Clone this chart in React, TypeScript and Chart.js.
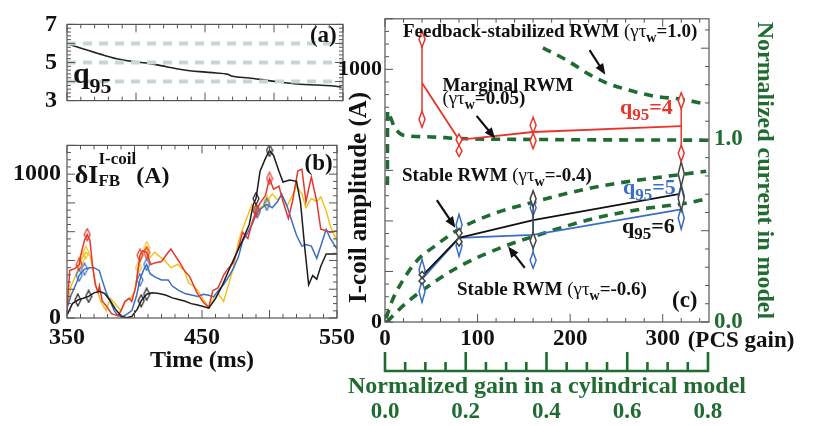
import React, { useEffect, useRef } from 'react';
import { Chart, registerables } from 'chart.js';

Chart.register(...registerables);

const SERIF = '"Liberation Serif", "Times New Roman", Times, serif';
const GREEN = '#1f6b30';
const INK = '#111111';
const RED = '#e8352c';
const BLUE = '#3a6ec4';
const YELLOW = '#f2c21e';

// ---------------- Panel (a): q95 vs time ----------------
const q95Time = [351, 362, 374, 386, 398, 410, 422, 434, 446, 458, 466, 470, 482, 495, 507, 519, 531, 543, 549];
const q95Value = [5.97, 5.71, 5.44, 5.2, 5.05, 4.94, 4.78, 4.62, 4.52, 4.45, 4.39, 4.28, 4.19, 4.06, 3.95, 3.86, 3.82, 3.77, 3.7];
const q95RefLevels = [6, 5, 4];
const aYTicks = [3, 5, 7];
const timeRange = [350, 550];

// ---------------- Panel (b): feedback I-coil current ----------------
const bXTicks = [350, 450, 550];
const bYTicks = [0, 1000];
const markerTimes = [360, 365, 404, 409, 490, 500];
const blackTime = [350, 354, 358, 362, 366, 370, 374, 378, 382, 386, 390, 394, 398, 402, 405, 409, 413, 418, 423, 428, 432, 437, 442, 446, 451, 455, 460, 465, 470, 476, 480, 485, 488, 490, 493, 497, 500, 503, 507, 510, 515, 520, 523, 526, 529, 532, 535, 538, 542, 546, 550];
const blackAmp = [20, 100, 125, 137, 150, 175, 185, 170, 120, 60, 15, 2, 10, 60, 120, 165, 175, 170, 160, 140, 130, 118, 100, 92, 80, 68, 135, 225, 335, 460, 540, 650, 790, 830, 1020, 1110, 1165, 1130, 1020, 945, 960, 950, 800, 500, 230, 295, 270, 360, 445, 445, 445];
const redTime = [350, 352, 356, 359, 361, 363, 365, 367, 369, 371, 373, 374, 376, 380, 383, 388, 391, 393, 396, 398, 401, 404, 406, 409, 412, 415, 420, 425, 427, 430, 433, 437, 441, 444, 446, 448, 451, 455, 458, 462, 466, 469, 473, 477, 480, 484, 487, 490, 493, 497, 500, 503, 507, 510, 514, 517, 521, 524, 527, 531, 535, 538, 542, 545, 550];
const redAmp = [50, 330, 345, 372, 470, 540, 580, 540, 360, 230, 180, 225, 120, 72, 30, 15, 72, 115, 137, 115, 222, 436, 468, 455, 372, 383, 393, 457, 479, 436, 393, 329, 286, 222, 180, 150, 110, 75, 190, 211, 297, 340, 382, 489, 596, 553, 660, 746, 799, 853, 970, 895, 917, 810, 692, 810, 1023, 1034, 810, 981, 810, 617, 607, 596, 607];
const yellowTime = [350, 353, 357, 361, 364, 367, 369, 371.5, 375, 379, 382, 386, 390, 393, 397, 400, 403, 406, 409, 411, 415, 419, 422, 427, 432, 437, 440, 444, 447, 451, 455, 458, 462, 466, 469, 473, 477, 480, 484, 487, 491, 495, 498, 502, 506, 509, 513, 517, 520, 524, 527, 531, 535, 538, 542, 545, 550];
const yellowAmp = [70, 222, 308, 415, 457, 436, 350, 222, 115, 51, 137, 94, 51, 115, 137, 179, 350, 457, 489, 415, 457, 425, 404, 350, 372, 329, 243, 222, 190, 130, 73, 126, 169, 115, 211, 340, 532, 617, 714, 788, 746, 778, 810, 863, 820, 853, 778, 853, 917, 863, 767, 831, 810, 842, 746, 639, 532];
const blueTime = [350, 353, 357, 359, 363, 367, 370, 374, 376, 379, 381, 385, 387.5, 391, 395, 398, 401.6, 404, 406.5, 409, 411.5, 415, 420, 425, 428, 433, 438, 443, 447, 451, 455, 458.5, 462, 466, 469, 473, 477, 480, 484, 487.5, 491, 495, 498, 502, 506, 509, 513, 517, 520, 524, 527, 531, 535, 538, 542, 545, 550];
const blueAmp = [70, 158, 243, 297, 340, 350, 350, 329, 265, 179, 137, 51, 19, 8, 30, 51, 158, 265, 329, 372, 308, 286, 265, 265, 222, 190, 168, 158, 150, 165, 158, 147, 190, 233, 276, 340, 425, 532, 596, 660, 740, 770, 790, 767, 810, 863, 778, 660, 575, 500, 510, 500, 415, 500, 617, 553, 479];

// ---------------- Panel (c): I-coil amplitude vs PCS gain ----------------
const pcsGain = [40, 80, 160, 320];
const q4Amp = [946, 721, 752, 775];
const q4Lo = [771, 655, 686, 636];
const q4Hi = [1151, 744, 810, 907];
const q5Amp = [170, 333, 345, 446];
const q5Lo = [78, 260, 213, 368];
const q5Hi = [248, 426, 484, 543];
const q6Amp = [182, 333, 403, 508];
const q6Lo = [150, 300, 291, 440];
const q6Hi = [200, 370, 519, 635];
const fbGain = [170.6, 196, 221, 239, 261, 290, 320, 347];
const fbNorm = [1.502, 1.435, 1.355, 1.31, 1.274, 1.238, 1.22, 1.194];
const margGain = [2.6, 2.8, 6, 10, 20, 45, 81, 160, 350];
const margNorm = [0.75, 1.156, 1.12, 1.07, 1.023, 1.015, 1.005, 1.0, 0.996];
const st4Gain = [1, 8, 16, 34, 56, 81, 117, 160, 225, 279, 320, 347];
const st4Norm = [0.02, 0.12, 0.2, 0.333, 0.424, 0.512, 0.593, 0.656, 0.737, 0.781, 0.808, 0.826];
const st6Gain = [2, 20, 40, 81, 124, 160, 225, 279, 320, 347];
const st6Norm = [0, 0.091, 0.172, 0.306, 0.405, 0.468, 0.566, 0.62, 0.647, 0.673];
const cXTicks = [0, 100, 200, 300];
const cYTicks = [0, 1000];
const cY2Ticks = [0, 1];
const cX2Ticks = [0, 0.2, 0.4, 0.6, 0.8];

const zip = (xs: number[], ys: number[]) => xs.map((x, i) => ({ x, y: ys[i] }));

type Seg = { t: string; size: number; bold?: boolean; dy?: number; color?: string; keep?: boolean };

function drawRich(ctx: CanvasRenderingContext2D, x: number, y: number, segs: Seg[], color: string) {
  let cx = x;
  let keepW = 0;
  ctx.textAlign = 'left';
  ctx.textBaseline = 'alphabetic';
  for (const s of segs) {
    ctx.font = `${s.bold === false ? '' : 'bold '}${s.size}px ${SERIF}`;
    ctx.fillStyle = s.color || color;
    ctx.fillText(s.t, cx, y + (s.dy || 0));
    const w = ctx.measureText(s.t).width;
    if (s.keep) {
      keepW = w;
      continue;
    }
    cx += Math.max(w, keepW);
    keepW = 0;
  }
}

function tickValues(min: number, max: number, step: number) {
  const out: number[] = [];
  const start = Math.ceil(min / step - 1e-9);
  const end = Math.floor(max / step + 1e-9);
  for (let i = start; i <= end; i++) out.push(i * step);
  return out;
}

const framePlugin = {
  id: 'frame',
  afterDatasetsDraw(chart: any, _a: any, o: any) {
    const { ctx, chartArea: a } = chart;
    ctx.save();
    ctx.strokeStyle = o.color || '#555';
    ctx.lineWidth = 1.2;
    ctx.strokeRect(a.left, a.top, a.right - a.left, a.bottom - a.top);
    ctx.lineWidth = 1;
    for (const spec of o.ticks || []) {
      const sc = chart.scales[spec.scale];
      for (const v of tickValues(sc.min, sc.max, spec.minor)) {
        const isMajor = Math.abs(v / spec.major - Math.round(v / spec.major)) < 1e-6;
        const len = isMajor ? 8 : 4;
        const p = sc.getPixelForValue(v);
        ctx.beginPath();
        for (const side of spec.sides) {
          if (side === 'bottom') { ctx.moveTo(p, a.bottom); ctx.lineTo(p, a.bottom - len); }
          if (side === 'top') { ctx.moveTo(p, a.top); ctx.lineTo(p, a.top + len); }
          if (side === 'left') { ctx.moveTo(a.left, p); ctx.lineTo(a.left + len, p); }
          if (side === 'right') { ctx.moveTo(a.right, p); ctx.lineTo(a.right - len, p); }
        }
        ctx.stroke();
      }
    }
    ctx.restore();
  },
};

function diamond(ctx: CanvasRenderingContext2D, x: number, yTop: number, yBot: number, hw: number) {
  const ym = (yTop + yBot) / 2;
  ctx.beginPath();
  ctx.moveTo(x, yTop);
  ctx.lineTo(x + hw, ym);
  ctx.lineTo(x, yBot);
  ctx.lineTo(x - hw, ym);
  ctx.closePath();
  ctx.fillStyle = '#ffffff';
  ctx.fill();
  ctx.stroke();
}

const errPlugin = {
  id: 'errbars',
  afterDatasetsDraw(chart: any, _a: any, o: any) {
    const { ctx } = chart;
    const xs = chart.scales.x;
    const ys = chart.scales.y;
    ctx.save();
    for (const b of o.bars || []) {
      ctx.strokeStyle = b.color;
      ctx.lineWidth = 1.5;
      b.xs.forEach((xv: number, i: number) => {
        const px = xs.getPixelForValue(xv);
        const pHi = ys.getPixelForValue(b.hi[i]);
        const pLo = ys.getPixelForValue(b.lo[i]);
        const span = pLo - pHi;
        ctx.beginPath();
        ctx.moveTo(px, pHi);
        ctx.lineTo(px, pLo);
        ctx.stroke();
        if (span <= 50) {
          const mid = (pHi + pLo) / 2;
          diamond(ctx, px, pHi, mid, 3);
          diamond(ctx, px, mid, pLo, 3);
        } else {
          diamond(ctx, px, pHi, pHi + 16, 3);
          diamond(ctx, px, pLo - 16, pLo, 3);
        }
      });
    }
    ctx.restore();
  },
};

const notesPlugin = {
  id: 'notes',
  afterDatasetsDraw(chart: any, _a: any, o: any) {
    const { ctx, chartArea: area } = chart;
    ctx.save();
    for (const n of o.texts || []) {
      const xs = chart.scales[n.xScale || 'x'];
      const ys = chart.scales[n.yScale || 'y'];
      drawRich(ctx, xs.getPixelForValue(n.x), ys.getPixelForValue(n.y), n.segs, n.color || INK);
    }
    for (const ar of o.arrows || []) {
      const xs = chart.scales.x;
      const ys = chart.scales.y;
      const x1 = xs.getPixelForValue(ar.x1), y1 = ys.getPixelForValue(ar.y1);
      const x2 = xs.getPixelForValue(ar.x2), y2 = ys.getPixelForValue(ar.y2);
      const ang = Math.atan2(y2 - y1, x2 - x1);
      const L = 11, W = 4.5;
      ctx.strokeStyle = INK;
      ctx.fillStyle = INK;
      ctx.lineWidth = 2.2;
      ctx.beginPath();
      ctx.moveTo(x1, y1);
      ctx.lineTo(x2 - Math.cos(ang) * L * 0.8, y2 - Math.sin(ang) * L * 0.8);
      ctx.stroke();
      ctx.beginPath();
      ctx.moveTo(x2, y2);
      ctx.lineTo(x2 - Math.cos(ang) * L - Math.sin(ang) * W, y2 - Math.sin(ang) * L + Math.cos(ang) * W);
      ctx.lineTo(x2 - Math.cos(ang) * L + Math.sin(ang) * W, y2 - Math.sin(ang) * L - Math.cos(ang) * W);
      ctx.closePath();
      ctx.fill();
    }
    if (o.leftTitle) {
      const t = o.leftTitle;
      const ys = chart.scales.y;
      ctx.save();
      ctx.translate(ys.left + t.dx, (area.top + area.bottom) / 2 + t.dyc);
      ctx.rotate(-Math.PI / 2);
      ctx.font = `bold ${t.size}px ${SERIF}`;
      ctx.fillStyle = INK;
      ctx.textAlign = 'center';
      ctx.textBaseline = 'alphabetic';
      ctx.fillText(t.text, 0, 0);
      ctx.restore();
    }
    if (o.gainLabel) {
      const g = o.gainLabel;
      const xs = chart.scales.x;
      drawRich(ctx, xs.getPixelForValue(g.at) + g.dx, xs.top + g.dy, [{ t: g.text, size: g.size }], INK);
    }
    if (o.bracket) {
      const b = o.bracket;
      const s2 = chart.scales.x2;
      const y = s2.top + b.dy;
      ctx.strokeStyle = GREEN;
      ctx.lineWidth = 2.6;
      ctx.beginPath();
      ctx.moveTo(s2.getPixelForValue(b.from) - 1.3, y);
      ctx.lineTo(s2.getPixelForValue(b.to) + 1.3, y);
      for (const v of tickValues(b.from, b.to, b.minor)) {
        const isMajor = Math.abs(v / b.major - Math.round(v / b.major)) < 1e-6;
        const p = s2.getPixelForValue(v);
        ctx.moveTo(p, y);
        ctx.lineTo(p, y - (isMajor ? 19 : 9));
      }
      ctx.stroke();
      ctx.font = `bold ${b.size}px ${SERIF}`;
      ctx.fillStyle = GREEN;
      ctx.textAlign = 'center';
      ctx.textBaseline = 'alphabetic';
      ctx.fillText(b.title, (area.left + area.right) / 2, s2.top + b.titleDy);
    }
    ctx.restore();
  },
};

function makeDiamondImage(color: string) {
  const c = document.createElement('canvas');
  c.width = 8;
  c.height = 14;
  const g = c.getContext('2d')!;
  g.strokeStyle = color;
  g.lineWidth = 1.2;
  g.beginPath();
  g.moveTo(4, 1);
  g.lineTo(7, 7);
  g.lineTo(4, 13);
  g.lineTo(1, 7);
  g.closePath();
  g.stroke();
  return c;
}

function nearestIdx(times: number[], targets: number[]) {
  return targets.map((t) => {
    let best = 0;
    times.forEach((v, i) => { if (Math.abs(v - t) < Math.abs(times[best] - t)) best = i; });
    return best;
  });
}

const tickFont = (size: number) => ({ family: SERIF, size, weight: 'bold' as const });
const noGrid = { display: false, drawTicks: false };
const noBorder = { display: false };
const setTicks = (vals: number[]) => (s: any) => { s.ticks = vals.map((v) => ({ value: v })); };
const plain = (v: any) => String(v);
const oneDec = (v: any) => Number(v).toFixed(1);

const wSub = (size: number): Seg => ({ t: 'w', size, dy: 5 });

export default function App() {
  const refA = useRef<HTMLCanvasElement>(null);
  const refB = useRef<HTMLCanvasElement>(null);
  const refC = useRef<HTMLCanvasElement>(null);

  useEffect(() => {
    document.body.style.margin = '0';
    const charts: Chart[] = [];

    // ---------- (a) ----------
    charts.push(new Chart(refA.current!, {
      type: 'line',
      data: {
        datasets: [
          ...q95RefLevels.map((l) => ({
            data: timeRange.map((t) => ({ x: t, y: l })),
            borderColor: '#c6d7d1', borderWidth: 4, borderDash: [9, 7], pointRadius: 0,
          })),
          { data: zip(q95Time, q95Value), borderColor: '#222', borderWidth: 1.6, pointRadius: 0, cubicInterpolationMode: 'monotone' as const },
        ],
      },
      options: {
        responsive: false, animation: false, events: [],
        layout: { padding: { top: 14, right: 17, bottom: 10, left: 0 } },
        plugins: {
          legend: { display: false }, tooltip: { enabled: false },
          frame: { ticks: [
            { scale: 'x', major: 50, minor: 10, sides: ['bottom', 'top'] },
            { scale: 'y', major: 1, minor: 0.2, sides: ['left', 'right'] },
          ] },
          notes: { texts: [
            { x: 526, y: 6.05, segs: [{ t: '(a)', size: 23 }] },
            { x: 354.3, y: 3.91, segs: [{ t: 'q', size: 30 }, { t: '95', size: 22, dy: 10 }] },
          ] },
        } as any,
        scales: {
          x: { type: 'linear', min: timeRange[0], max: timeRange[1], display: false },
          y: {
            type: 'linear', min: 3, max: 7,
            afterFit: (s: any) => { s.width = 67; },
            afterBuildTicks: setTicks(aYTicks),
            grid: noGrid, border: noBorder,
            ticks: { font: tickFont(24), color: INK, padding: 10, callback: plain },
          },
        },
      },
      plugins: [framePlugin, notesPlugin],
    }));

    // ---------- (b) ----------
    const series = [
      { t: blackTime, v: blackAmp, c: '#1c1c1c' },
      { t: redTime, v: redAmp, c: RED },
      { t: blueTime, v: blueAmp, c: BLUE },
      { t: yellowTime, v: yellowAmp, c: YELLOW },
    ];
    charts.push(new Chart(refB.current!, {
      type: 'line',
      data: {
        datasets: series.map((s) => {
          const idx = nearestIdx(s.t, markerTimes);
          return {
            data: zip(s.t, s.v), borderColor: s.c, borderWidth: 1.5, tension: 0,
            pointStyle: makeDiamondImage(s.c),
            pointRadius: (ctx: any) => (idx.includes(ctx.dataIndex) ? 4 : 0),
          };
        }),
      },
      options: {
        responsive: false, animation: false, events: [],
        layout: { padding: { top: 7, right: 17, bottom: 0, left: 0 } },
        plugins: {
          legend: { display: false }, tooltip: { enabled: false },
          frame: { ticks: [
            { scale: 'x', major: 50, minor: 10, sides: ['bottom', 'top'] },
            { scale: 'y', major: 200, minor: 50, sides: ['left', 'right'] },
          ] },
          notes: { texts: [
            { x: 526, y: 1032, segs: [{ t: '(b)', size: 23 }] },
            { x: 355.8, y: 936, segs: [
              { t: 'δI', size: 26 },
              { t: 'I-coil', size: 17, dy: -19, keep: true },
              { t: 'FB', size: 17, dy: 3 },
              { t: '(A)', size: 24 },
            ] },
          ] },
        } as any,
        scales: {
          x: {
            type: 'linear', min: timeRange[0], max: timeRange[1],
            afterFit: (s: any) => { s.height = 57; },
            afterBuildTicks: setTicks(bXTicks),
            grid: noGrid, border: noBorder,
            ticks: { font: tickFont(24), color: INK, padding: 5, maxRotation: 0, callback: plain },
            title: { display: true, text: 'Time (ms)', font: tickFont(24), color: INK, padding: 0 },
          },
          y: {
            type: 'linear', min: 0, max: 1200,
            afterFit: (s: any) => { s.width = 67; },
            afterBuildTicks: setTicks(bYTicks),
            grid: noGrid, border: noBorder,
            ticks: { font: tickFont(24), color: INK, padding: 6, callback: plain },
          },
        },
      },
      plugins: [framePlugin, notesPlugin],
    }));

    // ---------- (c) ----------
    const dashed = (xs: number[], ys: number[]) => ({
      data: zip(xs, ys), yAxisID: 'y2', borderColor: GREEN, borderWidth: 3.6, borderDash: [9, 7],
      pointRadius: 0, cubicInterpolationMode: 'monotone' as const,
    });
    const solid = (ys: number[], color: string) => ({
      data: zip(pcsGain, ys), borderColor: color, borderWidth: 1.8, pointRadius: 0, tension: 0,
    });
    charts.push(new Chart(refC.current!, {
      type: 'line',
      data: {
        datasets: [
          solid(q4Amp, RED), solid(q6Amp, '#111'), solid(q5Amp, BLUE),
          dashed(fbGain, fbNorm), dashed(margGain, margNorm), dashed(st4Gain, st4Norm), dashed(st6Gain, st6Norm),
        ],
      },
      options: {
        responsive: false, animation: false, events: [],
        layout: { padding: { top: 13, right: 0, bottom: 0, left: 0 } },
        plugins: {
          legend: { display: false }, tooltip: { enabled: false },
          frame: { ticks: [
            { scale: 'x', major: 100, minor: 20, sides: ['bottom', 'top'] },
            { scale: 'y', major: 200, minor: 50, sides: ['left'] },
            { scale: 'y2', major: 0.5, minor: 0.1, sides: ['right'] },
          ] },
          errbars: { bars: [
            { xs: pcsGain, lo: q5Lo, hi: q5Hi, color: BLUE },
            { xs: pcsGain, lo: q6Lo, hi: q6Hi, color: '#444' },
            { xs: pcsGain, lo: q4Lo, hi: q4Hi, color: RED },
          ] },
          notes: {
            texts: [
              { x: 19.4, y: 1126, segs: [{ t: 'Feedback-stabilized RWM ', size: 19 }, { t: '(γτ', size: 19, bold: false }, wSub(14), { t: '=1.0)', size: 19 }] },
              { x: 62, y: 913, segs: [{ t: 'Marginal RWM', size: 19 }] },
              { x: 62, y: 862, segs: [{ t: '(γτ', size: 19, bold: false }, wSub(14), { t: '=0.05)', size: 19 }] },
              { x: 253.8, y: 823, color: RED, segs: [{ t: 'q', size: 22 }, { t: '95', size: 17, dy: 6 }, { t: '=4', size: 22 }] },
              { x: 18.4, y: 559, segs: [{ t: 'Stable RWM ', size: 19 }, { t: '(γτ', size: 19, bold: false }, wSub(14), { t: '=-0.4)', size: 19 }] },
              { x: 257, y: 506, color: BLUE, segs: [{ t: 'q', size: 22 }, { t: '95', size: 17, dy: 6 }, { t: '=5', size: 22 }] },
              { x: 256, y: 351, segs: [{ t: 'q', size: 22 }, { t: '95', size: 17, dy: 6 }, { t: '=6', size: 22 }] },
              { x: 77.8, y: 105, segs: [{ t: 'Stable RWM ', size: 19 }, { t: '(γτ', size: 19, bold: false }, wSub(14), { t: '=-0.6)', size: 19 }] },
              { x: 310, y: 58, segs: [{ t: '(c)', size: 23 }] },
            ],
            arrows: [
              { x1: 221, y1: 1076, x2: 238, y2: 979 },
              { x1: 99, y1: 816, x2: 119, y2: 726 },
              { x1: 56, y1: 482, x2: 76, y2: 373 },
              { x1: 151, y1: 214, x2: 133, y2: 299 },
            ],
            leftTitle: { text: 'I-coil amplitude (A)', size: 25, dx: 36, dyc: 27 },
            gainLabel: { text: '(PCS gain)', at: 300, dx: 25, dy: 25, size: 23 },
            bracket: { from: 0, to: 0.8, major: 0.2, minor: 0.05, dy: 21, titleDy: 43, size: 24, title: 'Normalized gain in a cylindrical model' },
          },
        } as any,
        scales: {
          x: {
            type: 'linear', position: 'bottom', min: 0, max: 350,
            afterFit: (s: any) => { s.height = 28; },
            afterBuildTicks: setTicks(cXTicks),
            grid: noGrid, border: noBorder,
            ticks: { font: tickFont(23), color: INK, padding: 3, maxRotation: 0, callback: plain },
          },
          x2: {
            type: 'linear', position: 'bottom', min: 0, max: 0.8025,
            afterFit: (s: any) => { s.height = 76; },
            afterBuildTicks: setTicks(cX2Ticks),
            grid: noGrid, border: noBorder,
            ticks: {
              font: { ...tickFont(23), lineHeight: 5.39 }, color: GREEN, padding: 0, maxRotation: 0, callback: oneDec,
            },
          },
          y: {
            type: 'linear', position: 'left', min: 0, max: 1200,
            afterFit: (s: any) => { s.width = 55; },
            afterBuildTicks: setTicks(cYTicks),
            grid: noGrid, border: noBorder,
            ticks: { font: tickFont(22), color: INK, padding: 3, callback: plain },
          },
          y2: {
            type: 'linear', position: 'right', min: 0, max: 1.661,
            afterFit: (s: any) => { s.width = 105; },
            afterBuildTicks: setTicks(cY2Ticks),
            grid: noGrid, border: noBorder,
            ticks: { font: tickFont(23), color: GREEN, padding: 5, callback: oneDec },
            title: { display: true, text: 'Normalized current in model', font: tickFont(24), color: GREEN, padding: { top: 35, bottom: 0 } },
          },
        },
      },
      plugins: [framePlugin, errPlugin, notesPlugin],
    }));

    return () => { charts.forEach((c) => c.destroy()); };
  }, []);

  const abs = (l: number, t: number, w: number, h: number): React.CSSProperties => ({
    position: 'absolute', left: l, top: t, width: w, height: h,
  });

  return (
    <div style={{ position: 'absolute', left: 0, top: 0, width: 814, height: 426, background: '#fff', overflow: 'hidden' }}>
      <canvas ref={refA} width={360} height={125} style={abs(0, 0, 360, 125)} />
      <canvas ref={refB} width={360} height={250} style={abs(0, 125, 360, 250)} />
      <canvas ref={refC} width={484} height={426} style={abs(330, 0, 484, 426)} />
    </div>
  );
}
